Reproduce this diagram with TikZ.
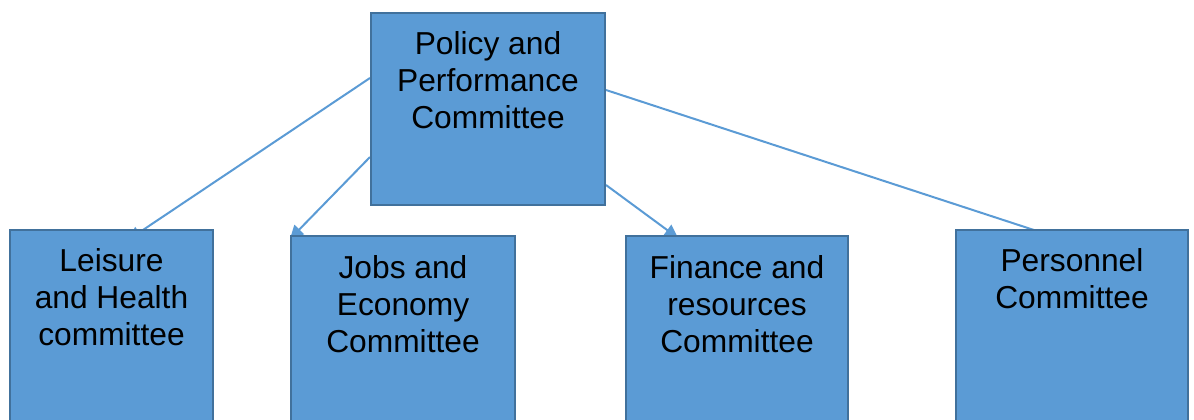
\documentclass[tikz,border=0pt]{standalone}
\usepackage{fontspec}
\setmainfont{Liberation Sans}
\usetikzlibrary{arrows.meta, calc, backgrounds}
\definecolor{boxfill}{HTML}{5B9BD5}
\definecolor{boxedge}{HTML}{41719C}

\begin{document}
\begin{tikzpicture}[x=0.75pt,y=-0.75pt,
  box/.style={rectangle,draw=boxedge,fill=boxfill,line width=1.5pt,inner sep=0pt,anchor=north west},
  txt/.style={anchor=north,inner sep=0pt,align=center,font=\fontsize{23.8}{27.75}\selectfont},
  link/.style={draw=boxfill,line width=1.5pt},
  tip/.style={-{Triangle[length=10pt,width=10pt]}}]

  \clip (0,0) rectangle (1194,419);

  % boxes
  \node[box, minimum width=175.5pt, minimum height=144pt]    (ppc)       at (370,12)  {};
  \node[box, minimum width=152.25pt, minimum height=150.75pt] (leisure)  at (9,229)   {};
  \node[box, minimum width=168pt, minimum height=146.25pt]   (jobs)      at (290,235) {};
  \node[box, minimum width=166.5pt, minimum height=146.25pt] (finance)   at (625,235) {};
  \node[box, minimum width=174pt, minimum height=150.75pt]   (personnel) at (955,229) {};

  % texts
  \node[txt] (ppc-txt)       at ($(ppc.north)+(0,19)$)       {Policy and\\Performance\\Committee};
  \node[txt] (leisure-txt)   at ($(leisure.north)+(0,19)$)   {Leisure\\and Health\\committee};
  \node[txt] (jobs-txt)      at ($(jobs.north)+(0,20)$)      {Jobs and\\Economy\\Committee};
  \node[txt] (finance-txt)   at ($(finance.north)+(0,20)$)   {Finance and\\resources\\Committee};
  \node[txt] (personnel-txt) at ($(personnel.north)+(0,19)$) {Personnel\\Committee};

  % links
  \begin{scope}[on background layer]
    \draw[link, tip] ($(ppc.north west)+(0,66)$)  -- ($(leisure.north west)+(119,11)$);
    \draw[link, tip] ($(ppc.north west)+(0,145)$) -- ($(jobs.north west)+(0,4)$);
    \draw[link, tip] ($(ppc.north east)+(0,173)$) -- ($(finance.north west)+(53,3)$);
    \draw[link]      ($(ppc.north east)+(0,78)$)  -- ($(personnel.north west)+(85,3)$);
  \end{scope}
\end{tikzpicture}
\end{document}
